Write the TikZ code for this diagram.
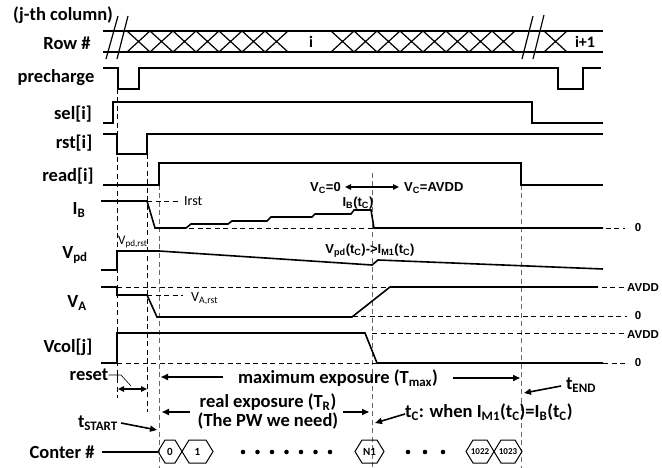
\documentclass[tikz,border=0pt]{standalone}
\usepackage{fontspec}
\setmainfont{Carlito}
\newfontfamily\arl{Liberation Sans}
\usetikzlibrary{arrows.meta}
\begin{document}
\begin{tikzpicture}[x=1pt,y=-1pt,
  sig/.style={line width=1.6pt},
  thin sig/.style={line width=1.2pt},
  dsh/.style={line width=0.9pt,dash pattern=on 5pt off 3.5pt},
  gdsh/.style={dsh,draw=black!60},
  lbl/.style={inner sep=0pt,font=\fontsize{18.5}{20}\selectfont\bfseries},
  albl/.style={inner sep=0pt,font=\arl\fontsize{13}{15}\selectfont\bfseries},
  rlbl/.style={inner sep=0pt,font=\arl\fontsize{11.5}{13}\selectfont\bfseries},
  slbl/.style={inner sep=0pt,font=\fontsize{14}{16}\selectfont},
  arr/.style={line width=1.6pt,-{Triangle[length=7pt,width=6pt]}},
  darr/.style={line width=1.5pt,{Triangle[length=6pt,width=5.5pt]}-{Triangle[length=6pt,width=5.5pt]}},
  hexs/.style={line width=1pt}
]
\useasboundingbox (0,0) rectangle (662,468);

% ---------- left labels ----------
\node[lbl] (jcol) at (63,15) {(j-th column)};
\node[lbl] (lrow) at (67,43) {Row \#};
\node[lbl] (lpre) at (56,78) {precharge};
\node[lbl] (lsel) at (73,114) {sel[i]};
\node[lbl] (lrst) at (74,143) {rst[i]};
\node[lbl] (lread) at (68,176) {read[i]};
\node[lbl] (lib) at (79,210) {I\textsubscript{B}};
\node[lbl] (lvpd) at (75,255) {V\textsubscript{pd}};
\node[lbl] (lva) at (77,303) {V\textsubscript{A}};
\node[lbl] (lvcol) at (68,347) {Vcol[j]};

% ---------- Row # band ----------
\draw[thin sig] (103,31)--(603,31) (103,52)--(603,52);
\foreach \s in {0,...,6} {
  \draw[thin sig] (127+23*\s,31)--(150+23*\s,52) (127+23*\s,52)--(150+23*\s,31);
}
\foreach \s in {0,...,7} {
  \draw[thin sig] (331+23*\s,31)--(354+23*\s,52) (331+23*\s,52)--(354+23*\s,31);
}
\draw[thin sig] (544,31)--(567,52) (544,52)--(567,31);
\draw[thin sig] (106,59)--(118,16) (117,59)--(128,16);
\draw[thin sig] (522,59)--(533,16) (533,59)--(544,15);
\node[lbl,font=\fontsize{16}{18}\selectfont\bfseries] (ri) at (311,42) {i};
\node[lbl,font=\fontsize{16}{18}\selectfont\bfseries] (ri1) at (585,42) {i+1};

% ---------- vertical dashed guides ----------
\draw[dsh] (117,89)--(117,398);
\draw[dsh] (147,154)--(147,412);
\draw[gdsh] (159,185)--(159,468);
\draw[gdsh] (372,173)--(372,468);
\draw[gdsh] (521,185)--(521,468);

% ---------- horizontal dashed references ----------
\draw[dsh] (147,201)--(180,201);
\draw[dsh] (155,228)--(625,228);
\draw[dsh] (117,287)--(627,287);
\draw[dsh] (147,295)--(183,295);
\draw[dsh] (157,316)--(627,316);
\draw[dsh] (372,333)--(627,333);
\draw[dsh] (117,363)--(377,363);
\draw[dsh] (603,363)--(625,363);

% ---------- signals ----------
\draw[sig] (103,68)--(118,68)--(118,89)--(139,89)--(139,68)--(558,68)--(558,89)--(583,89)--(583,68)--(601,68);
\draw[sig] (103,123)--(113,123)--(113,102)--(532,102)--(532,123)--(603,123);
\draw[sig] (103,134)--(117,134)--(117,154)--(147,154)--(147,134)--(603,134);
\draw[sig] (103,185)--(159,185)--(159,163)--(521,163)--(521,185)--(603,185);
\draw[sig] (101,201)--(147,201)--(155,228)--(186,228)--(191,224)--(228,224)--(232,221)--(267,221)--(271,217)--(312,217)--(315,214)--(351,214)--(354,210)--(371,210)--(374,228)--(603,228);
\draw[sig] (101,270)--(117,270)--(117,251)--(159,251)--(372,265)--(378,260)--(603,269);
\draw[sig] (101,287)--(117,287)--(117,295)--(147,295)--(157,317)--(352,317)--(390,287)--(598,287);
\draw[sig] (101,363)--(117,363)--(117,333)--(365,333)--(377,363)--(603,363);

% ---------- signal annotations ----------
\node[slbl,anchor=west] (irst) at (184,201) {Irst};
\node[slbl,anchor=west] (vars) at (191,299) {V\textsubscript{A,rst}};
\node[slbl,anchor=west,font=\fontsize{13}{15}\selectfont] (vpdr) at (118,242) {V\textsubscript{pd,rst}};
\node[albl,anchor=east] (vc0) at (341,188) {V\textsubscript{C}=0};
\node[albl,anchor=west] (vcav) at (404,188) {V\textsubscript{C}=AVDD};
\draw[darr] (vc0.east)++(4,-1) coordinate (vca) -- (399,187) coordinate (vcb);
\node[albl] (ibtc) at (358,203) {I\textsubscript{B}(t\textsubscript{C})};
\node[albl] (vpdtc) at (370,251) {V\textsubscript{pd}(t\textsubscript{C})->I\textsubscript{M1}(t\textsubscript{C})};

\node[rlbl] (r0a) at (638,228) {0};
\node[rlbl] (ravdd1) at (643,288) {AVDD};
\node[rlbl] (r0b) at (638,316) {0};
\node[rlbl] (ravdd2) at (643,335) {AVDD};
\node[rlbl] (r0c) at (638,363) {0};

% ---------- bottom annotations ----------
\node[lbl] (lreset) at (89,375) {reset};
\coordinate (rs1) at (121,375);
\coordinate (rs2) at (131,386);
\draw[line width=0.6pt] (lreset.east)--(rs1)--(rs2);
\draw[line width=0.6pt] (117,371)--(117,379);
\coordinate (ra) at (118,389);
\coordinate (rb) at (147,389);
\draw[darr] (ra)--(rb);

\node[lbl] (maxexp) at (338,378) {maximum exposure (T\textsubscript{max})};
\coordinate (mxl) at (161,377);
\coordinate (mxr) at (520,378);
\draw[arr] (223,377)--(mxl);
\draw[arr] (453,378)--(mxr);

\node[lbl] (tend) at (581,385) {t\textsubscript{END}};
\coordinate (tendp) at (524,393);
\draw[arr] (561,386)--(tendp);

\node[lbl,align=center,font=\fontsize{18.5}{19}\selectfont\bfseries] (realexp) at (268,412) {real exposure (T\textsubscript{R})\\(The PW we need)};
\coordinate (rel) at (162,412);
\coordinate (rer) at (369,412);
\draw[arr] (190,412)--(rel);
\draw[arr] (343,412)--(rer);

\node[lbl,anchor=west] (tcl) at (405,412) {t\textsubscript{C}: when I\textsubscript{M1}(t\textsubscript{C})=I\textsubscript{B}(t\textsubscript{C})};
\coordinate (tcp) at (375,423);
\draw[arr] (tcl.west)++(0,2) -- (tcp);

\node[lbl,anchor=east] (tstart) at (118,423) {t\textsubscript{START}};
\coordinate (tsp) at (157,430);
\draw[arr] (tstart.east)++(3,0) -- (tsp);

\node[lbl] (lcnt) at (62,452) {Conter \#};
\coordinate (cnte) at (158,452);
\draw[line width=1.2pt] (102,452)--(cnte);

\foreach \a/\b/\t/\fs in {158/182/0/11, 182/213/1/11, 355/384/N1/11, 466/494/1022/9, 494/522/1023/9} {
  \draw[hexs] (\a,451.5)--(\a+7,440)--(\b-7,440)--(\b,451.5)--(\b-7,463)--(\a+7,463)--cycle;
  \node[inner sep=0pt,font=\fontsize{\fs}{\fs}\selectfont\bfseries] (h\t) at ({(\a+\b)/2},451.5) {\t};
}
\foreach \k in {0,...,6} { \fill (243+14.5*\k,452) circle (2.3pt); }
\foreach \xx in {408,425,443} { \fill (\xx,452) circle (2.3pt); }

\end{tikzpicture}
\end{document}
